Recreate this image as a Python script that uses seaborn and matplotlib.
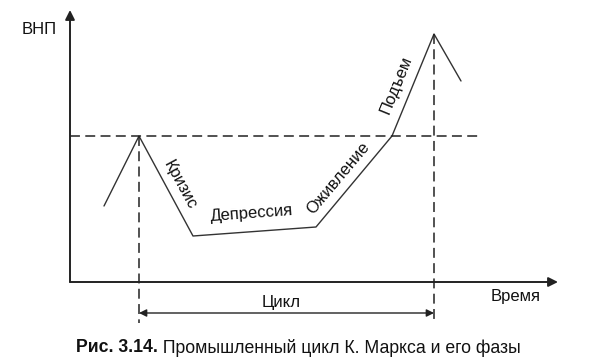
import matplotlib
matplotlib.use("Agg")
import matplotlib.pyplot as plt
import seaborn as sns
import pandas as pd

# ---- data ----
time = [34, 69, 123, 246, 322, 364, 391]
gnp = [76, 146, 46, 55, 146, 248, 201]
trend_level = 146
trend_end = 408
cycle_start = 69
cycle_end = 364
phase_names = ["Кризис", "Депрессия", "Оживление", "Подъем"]
phase_x = [110, 182, 268, 326]
phase_y = [97, 69, 104, 197]
phase_rot = [-61.6, 4.2, 50.0, 67.8]
y_label = "ВНП"
x_label = "Время"
cycle_label = "Цикл"
caption_bold = "Рис. 3.14."
caption_rest = " Промышленный цикл К. Маркса и его фазы"

sns.set_style("white")
plt.rcParams["font.family"] = ["Liberation Sans", "DejaVu Sans"]

fig = plt.figure(figsize=(6.0, 3.62), dpi=100)
W, H = 600, 362
ax = fig.add_axes([70 / W, 80 / H, 488 / W, 272 / H])
ax.set_xlim(0, 488)
ax.set_ylim(0, 272)
for s in ax.spines.values():
    s.set_visible(False)
ax.set_xticks([])
ax.set_yticks([])
ax.patch.set_alpha(0)

df = pd.DataFrame({"t": time, "gnp": gnp})
sns.lineplot(data=df, x="t", y="gnp", ax=ax, color="#333333", lw=1.0,
             sort=False, estimator=None)
ax.set_xlabel("")
ax.set_ylabel("")

dash = (0, (6.5, 3.5))
# trend line
ax.plot([0, trend_end], [trend_level, trend_level], color="#222222",
        lw=1.1, linestyle=dash, clip_on=False)
# vertical cycle markers
ax.plot([cycle_start, cycle_start], [gnp[1], -41], color="#222222",
        lw=1.1, linestyle=dash, clip_on=False)
ax.plot([cycle_end, cycle_end], [max(gnp), -41], color="#222222",
        lw=1.1, linestyle=dash, clip_on=False)

# axes arrows
ax.annotate("", xy=(488, 0), xytext=(0, 0), annotation_clip=False,
            arrowprops=dict(arrowstyle="-|>", color="#222222", lw=1.4,
                            mutation_scale=14, shrinkA=0, shrinkB=0))
ax.annotate("", xy=(0, 272), xytext=(0, 0), annotation_clip=False,
            arrowprops=dict(arrowstyle="-|>", color="#222222", lw=1.4,
                            mutation_scale=14, shrinkA=0, shrinkB=0))
# cycle arrow
ax.annotate("", xy=(cycle_end, -31), xytext=(cycle_start, -31),
            annotation_clip=False,
            arrowprops=dict(arrowstyle="<|-|>", color="#222222", lw=1.0,
                            mutation_scale=11, shrinkA=0, shrinkB=0))

# phase labels
for name, x, y, r in zip(phase_names, phase_x, phase_y, phase_rot):
    ax.text(x, y, name, rotation=r, rotation_mode="anchor", ha="center",
            va="center", fontsize=12, color="#111111")

ax.text(-31, 253, y_label, ha="center", va="center", fontsize=12,
        color="#111111", clip_on=False)
ax.text(446, -15, x_label, ha="center", va="center", fontsize=12,
        color="#111111", clip_on=False)
ax.text(211, -20, cycle_label, ha="center", va="center", fontsize=12,
        color="#111111", clip_on=False)

t1 = fig.text(76 / W, 1 - 348 / H, caption_bold, ha="left", va="center",
              fontsize=12.7, fontweight="bold", color="#111111")
fig.canvas.draw()
bb = t1.get_window_extent()
fig.text(bb.x1 / W, 1 - 348 / H, caption_rest, ha="left", va="center",
         fontsize=12.7, color="#111111")

fig.savefig("out.png", dpi=100)
